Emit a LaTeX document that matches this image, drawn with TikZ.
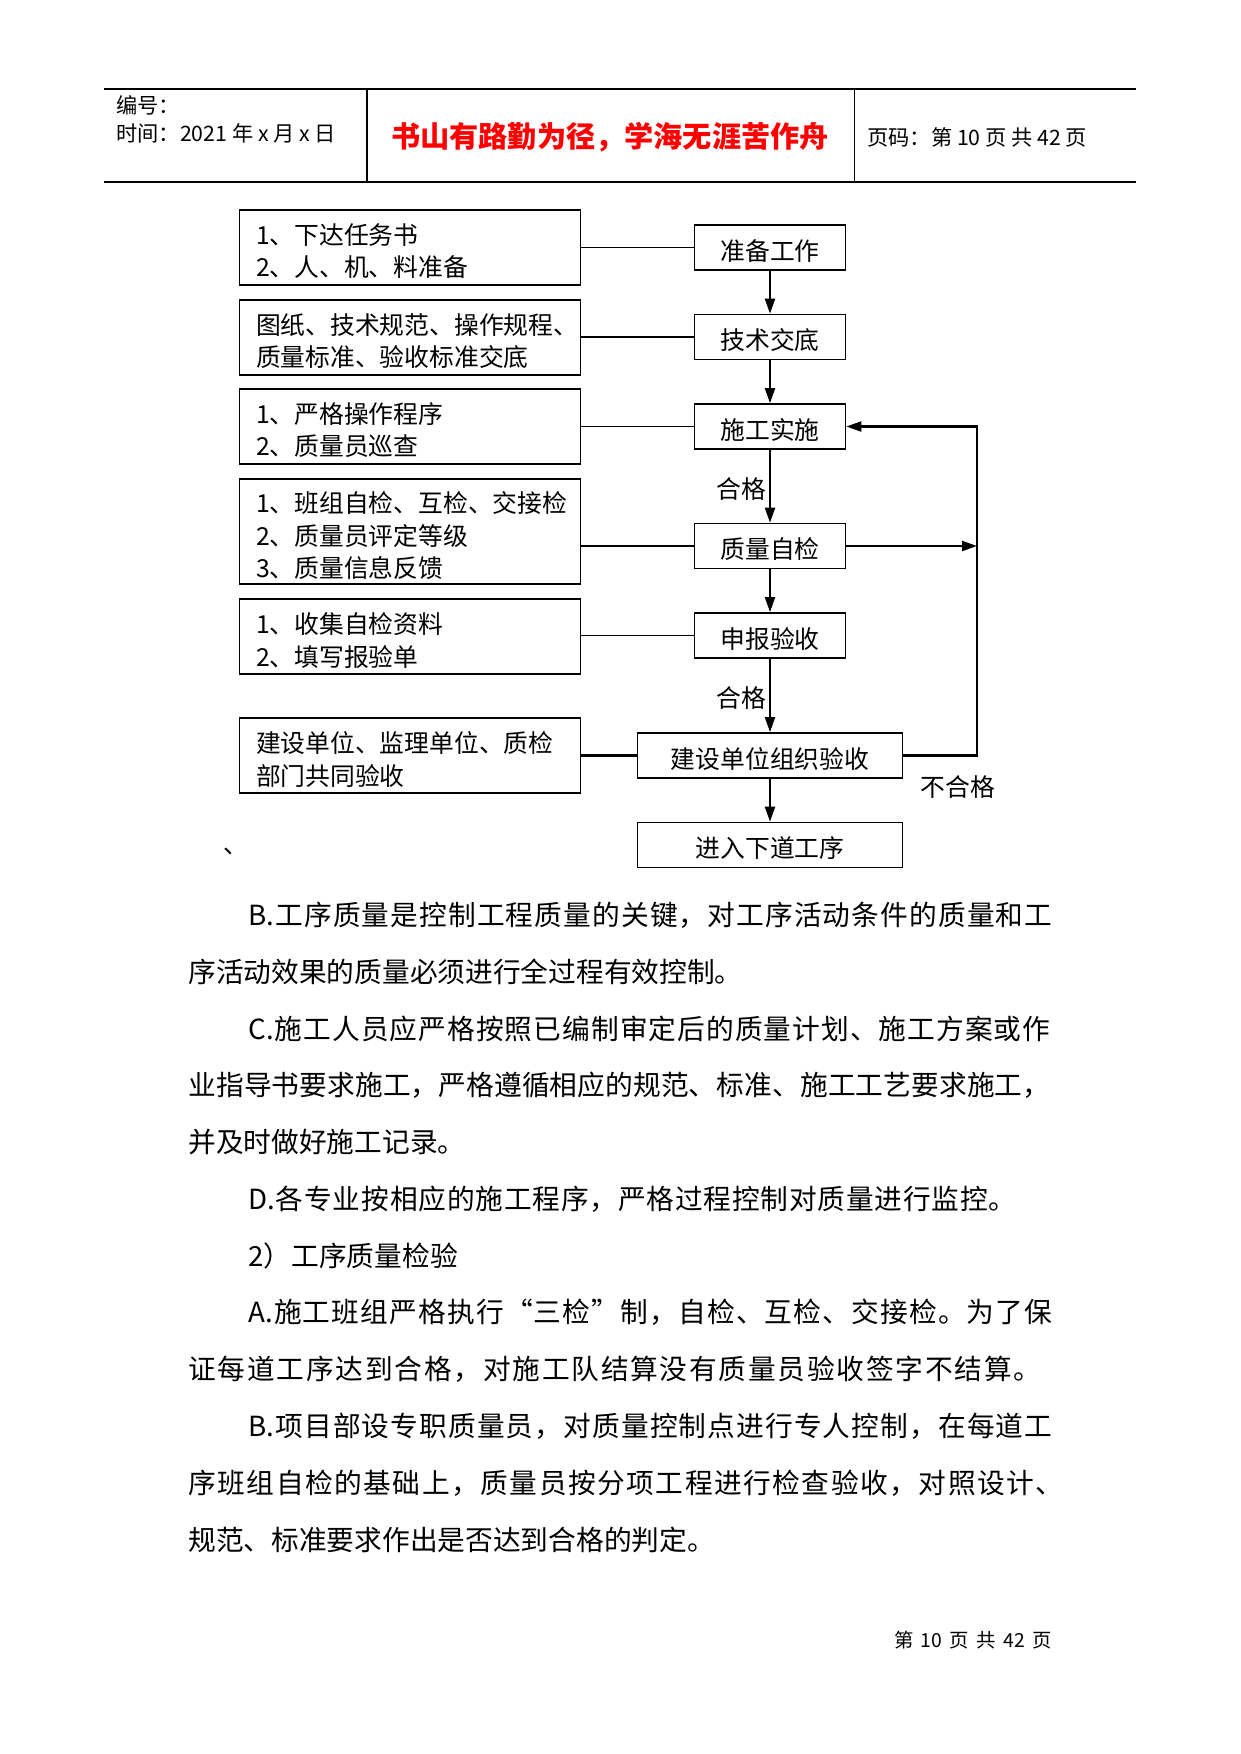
\documentclass[tikz,border=0pt]{standalone}
\usepackage{fontspec}
\setmainfont{Noto Sans CJK SC}
\usetikzlibrary{arrows.meta}
\newdimen\px \px=0.48pt
\newcommand\myboxfont{\fontsize{11.9}{15.4}\selectfont}
\newcommand\mybodyfont{\fontsize{13.3}{16}\selectfont}
\newcommand\myheadfont{\fontsize{10.2}{12}\selectfont}
\def\jline#1{\jA#1\relax}
\def\jA#1{#1\jB}
\def\jB#1{\ifx\relax#1\else\hfill#1\expandafter\jB\fi}
\tikzset{
 lbox/.style={draw, line width=1.7\px, minimum width=341\px, inner sep=0pt},
 ltext/.style={text width=308\px, align=left, inner sep=0pt, font=\myboxfont},
 rbox/.style={draw, line width=1.7\px, minimum width=151\px, minimum height=45\px, inner sep=0pt},
 wbox/.style={rbox, minimum width=265\px},
 rtext/.style={inner sep=0pt, font=\myboxfont},
 cthin/.style={line width=1\px},
 cthick/.style={line width=2.2\px},
 arr/.style={cthick, -{Triangle[length=7.2pt,width=4.8pt]}},
 body/.style={anchor=west, inner sep=0pt, font=\mybodyfont},
 lab/.style={inner sep=0pt, font=\myboxfont},
}
\begin{document}
\begin{tikzpicture}[x=0.48pt,y=-0.48pt]
\path[use as bounding box, fill=white] (0,0) rectangle (1241,1754);
% header
\coordinate (htl) at (104,89); \coordinate (htr) at (1136,89);
\coordinate (hbl) at (104,182); \coordinate (hbr) at (1136,182);
\coordinate (v1t) at (367,89); \coordinate (v1b) at (367,182);
\coordinate (v2t) at (854,89); \coordinate (v2b) at (854,182);
\draw[line width=2\px] (htl) -- (htr);
\draw[line width=2\px] (hbl) -- (hbr);
\draw[line width=2\px] (v1t) -- (v1b);
\draw[line width=1\px] (v2t) -- (v2b);
\node[anchor=west, inner sep=0pt, font=\myheadfont] (h1) at (116,105) {编号：};
\node[anchor=west, inner sep=0pt, font=\myheadfont] (h2) at (116,133) {时间：2021 年 x 月 x 日};
\node[inner sep=0pt, text=red, font=\fontsize{14}{16}\selectfont\bfseries] (title) at (610,137) {书山有路勤为径，学海无涯苦作舟};
\node[anchor=west, inner sep=0pt, font=\myheadfont] (h3) at (867,137) {页码：第 10 页 共 42 页};
% flowchart left boxes
\node[lbox, minimum height=75\px] (l1) at (410,247.5) {};
\node[lbox, minimum height=75\px] (l2) at (410,337.5) {};
\node[lbox, minimum height=75\px] (l3) at (410,426.5) {};
\node[lbox, minimum height=105\px] (l4) at (410,531.5) {};
\node[lbox, minimum height=75\px] (l5) at (410,636.5) {};
\node[lbox, minimum height=75\px] (l6) at (410,755.5) {};
\node[ltext] (l1t) at ([yshift=-4\px]l1.center) {1、下达任务书\\2、人、机、料准备};
\node[ltext] (l2t) at ([yshift=-4\px]l2.center) {图纸、技术规范、操作规程、\\质量标准、验收标准交底};
\node[ltext] (l3t) at ([yshift=-4\px]l3.center) {1、严格操作程序\\2、质量员巡查};
\node[ltext] (l4t) at ([yshift=-4\px]l4.center) {1、班组自检、互检、交接检\\2、质量员评定等级\\3、质量信息反馈};
\node[ltext] (l5t) at ([yshift=-4\px]l5.center) {1、收集自检资料\\2、填写报验单};
\node[ltext] (l6t) at ([yshift=-4\px]l6.center) {建设单位、监理单位、质检\\部门共同验收};
% right boxes
\node[rbox] (r1) at (770,247.5) {};
\node[rbox] (r2) at (770,337) {};
\node[rbox] (r3) at (770,426.5) {};
\node[rbox] (r4) at (770,546) {};
\node[rbox] (r5) at (770,635.5) {};
\node[wbox] (r6) at (770,755.5) {};
\node[wbox] (r7) at (770,845) {};
\node[rtext] (r1t) at ([yshift=-3.2\px]r1.center) {准备工作};
\node[rtext] (r2t) at ([yshift=-3.2\px]r2.center) {技术交底};
\node[rtext] (r3t) at ([yshift=-3.2\px]r3.center) {施工实施};
\node[rtext] (r4t) at ([yshift=-3.2\px]r4.center) {质量自检};
\node[rtext] (r5t) at ([yshift=-3.2\px]r5.center) {申报验收};
\node[rtext] (r6t) at ([yshift=-3.2\px]r6.center) {建设单位组织验收};
\node[rtext] (r7t) at ([yshift=-3.2\px]r7.center) {进入下道工序};
% connectors left-right
\draw[cthin] (l1.east |- r1.west) -- (r1.west);
\draw[cthick] (l2.east |- r2.west) -- (r2.west);
\draw[cthin] (l3.east |- r3.west) -- (r3.west);
\draw[cthick] (l4.east |- r4.west) -- (r4.west);
\draw[cthin] (l5.east |- r5.west) -- (r5.west);
\draw[cthick] (l6.east |- r6.west) -- (r6.west);
% vertical arrows
\draw[arr] (r1.south) -- (r2.north);
\draw[arr] (r2.south) -- (r3.north);
\draw[arr] (r3.south) -- (r4.north);
\draw[arr] (r4.south) -- (r5.north);
\draw[arr] (r5.south) -- (r6.north);
\draw[arr] (r6.south) -- (r7.north);
% feedback loop
\coordinate (fb) at (977,755.5);
\draw[arr] (r6.east) -- (fb) -- (fb |- r3.east) -- (r3.east);
\draw[arr] (r4.east) -- (fb |- r4.east);
\node[lab] (ok1) at (741,489) {合格};
\node[lab] (ok2) at (741,698) {合格};
\node[lab] (ng) at (958,787) {不合格};
\node[lab] (mark) at (236,851) {、};
% body text
\node[body] (t1) at (248,915) {\makebox[804\px][l]{\jline{{B.}工序质量是控制工程质量的关键，对工序活动条件的质量和工}}};
\node[body] (t2) at (188,971.8) {序活动效果的质量必须进行全过程有效控制。};
\node[body] (t3) at (248,1028.6) {\makebox[802\px][l]{\jline{{C.}施工人员应严格按照已编制审定后的质量计划、施工方案或作}}};
\node[body] (t4) at (188,1085.4) {\makebox[862\px][l]{\jline{业指导书要求施工，严格遵循相应的规范、标准、施工工艺要求施工，}}};
\node[body] (t5) at (188,1142.2) {并及时做好施工记录。};
\node[body] (t6) at (248,1199) {\makebox[768\px][l]{\jline{{D.}各专业按相应的施工程序，严格过程控制对质量进行监控。}}};
\node[body] (t7) at (248,1255.8) {2）工序质量检验};
\node[body] (t8) at (248,1312.6) {\makebox[804\px][l]{\jline{{A.}施工班组严格执行“三检”制，自检、互检、交接检。为了保}}};
\node[body] (t9) at (188,1369.4) {\makebox[853\px][l]{\jline{证每道工序达到合格，对施工队结算没有质量员验收签字不结算。}}};
\node[body] (t10) at (248,1426.2) {\makebox[804\px][l]{\jline{{B.}项目部设专职质量员，对质量控制点进行专人控制，在每道工}}};
\node[body] (t11) at (188,1483) {\makebox[875\px][l]{\jline{序班组自检的基础上，质量员按分项工程进行检查验收，对照设计、}}};
\node[body] (t12) at (188,1539.8) {规范、标准要求作出是否达到合格的判定。};
% footer
\node[inner sep=0pt, font=\fontsize{9.3}{11}\selectfont] (foot) at (973,1640) {\makebox[158\px][s]{第 10 页 共 42 页}};
\end{tikzpicture}
\end{document}
